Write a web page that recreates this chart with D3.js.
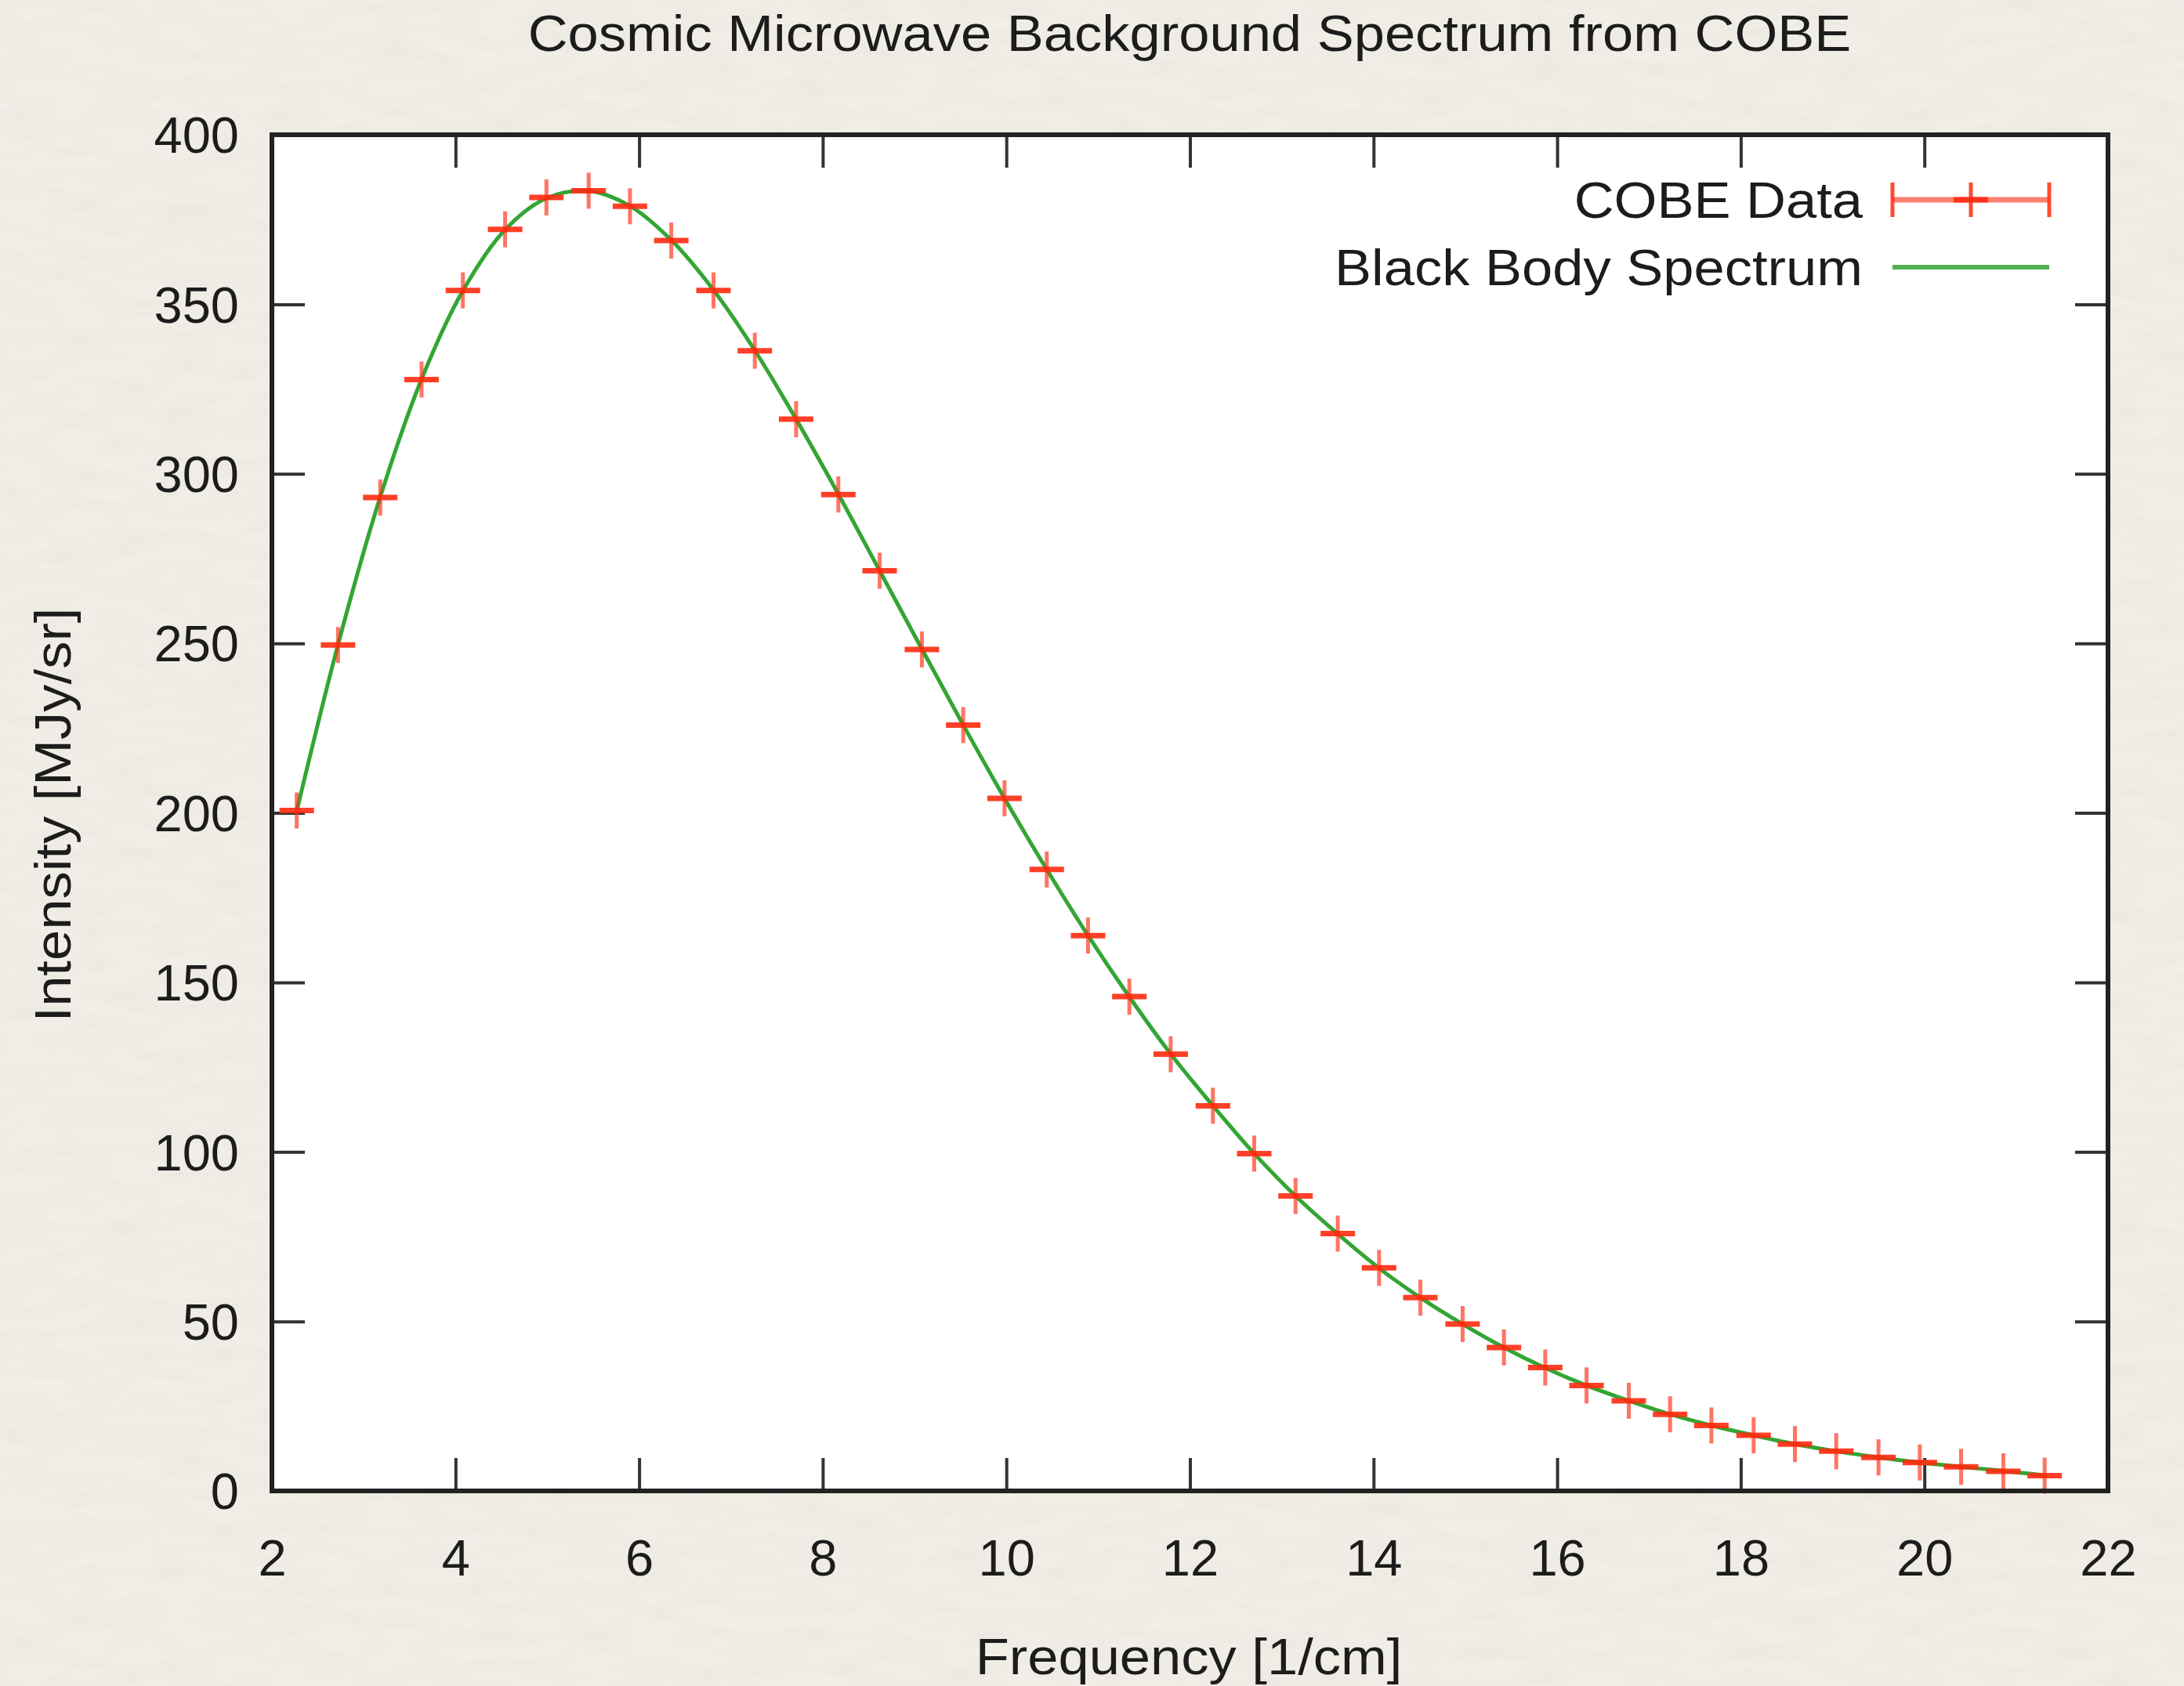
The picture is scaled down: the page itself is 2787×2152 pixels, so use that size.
<!DOCTYPE html>
<html>
<head>
<meta charset="utf-8">
<script src="https://cdn.jsdelivr.net/npm/d3@7"></script>
<style>
    body { margin: 0; background: #eeebe5; }
    text { font-family: "Liberation Sans", Arial, sans-serif; fill: #1c1c1c; }
</style>
</head>
<body>
<div id="container"></div>
<script>
// COBE FIRAS spectrum
const frequency = [2.27, 2.72, 3.18, 3.63, 4.08, 4.54, 4.99, 5.45, 5.90, 6.35, 6.81, 7.26, 7.71,
    8.17, 8.62, 9.08, 9.53, 9.98, 10.44, 10.89, 11.34, 11.79, 12.25, 12.70, 13.15, 13.61,
    14.06, 14.51, 14.97, 15.42, 15.87, 16.32, 16.78, 17.23, 17.68, 18.14, 18.59, 19.04,
    19.50, 19.95, 20.40, 20.86, 21.31];
const cobeData = [200.7, 249.5, 293.0, 327.8, 354.1, 372.1, 381.5, 383.5, 378.9, 368.8, 354.1,
    336.3, 316.1, 293.9, 271.4, 248.2, 225.9, 204.3, 183.3, 163.8, 145.8, 128.8, 113.6, 99.5,
    87.0, 75.9, 65.8, 57.0, 49.2, 42.3, 36.4, 31.1, 26.6, 22.6, 19.3, 16.4, 13.8, 11.7, 9.9,
    8.4, 7.1, 5.8, 4.5];
const blackBody = [200.5, 249.6, 293.2, 327.9, 354.0, 372.0, 381.3, 383.4, 379.0, 368.9, 354.2,
    336.4, 316.1, 294.0, 271.4, 248.3, 225.9, 204.3, 183.3, 163.8, 145.7, 128.9, 113.6, 99.5,
    87.0, 75.8, 65.7, 57.0, 49.2, 42.3, 36.3, 31.1, 26.6, 22.6, 19.3, 16.4, 13.8, 11.7, 9.9,
    8.4, 7.1, 5.9, 4.6];
const xTicks = [2, 4, 6, 8, 10, 12, 14, 16, 18, 20, 22];
const yTicks = [0, 50, 100, 150, 200, 250, 300, 350, 400];
const seriesNames = ["COBE Data", "Black Body Spectrum"];

function main() {
    const width = 2787, height = 2152;
    const plot = { left: 347, right: 2690, top: 172, bottom: 1903 };
    const fontSize = 65;
    const stretch = 1.085;
    const red = "#ff2a10", green = "#34a534";

    const svg = d3.select("#container")
        .append("svg")
        .attr("width", width)
        .attr("height", height);

    // paper background
    const defs = svg.append("defs");
    const filter = defs.append("filter").attr("id", "paper")
        .attr("x", 0).attr("y", 0).attr("width", "100%").attr("height", "100%");
    filter.append("feTurbulence")
        .attr("type", "fractalNoise")
        .attr("baseFrequency", "0.015 0.05")
        .attr("numOctaves", 4)
        .attr("seed", 7);
    filter.append("feColorMatrix")
        .attr("values", "0 0 0 0 0.55  0 0 0 0 0.52  0 0 0 0 0.47  0.2 0 0 0 -0.06");
    svg.append("rect")
        .attr("width", width).attr("height", height)
        .attr("fill", "#f1eee8");
    svg.append("rect")
        .attr("width", width).attr("height", height)
        .attr("filter", "url(#paper)");

    svg.append("rect")
        .attr("x", plot.left).attr("y", plot.top)
        .attr("width", plot.right - plot.left)
        .attr("height", plot.bottom - plot.top)
        .attr("fill", "#ffffff");

    let x = d3.scaleLinear().domain([2, 22]).range([plot.left, plot.right]);
    let y = d3.scaleLinear().domain([0, 400]).range([plot.bottom, plot.top]);
    const tickLen = 42;

    const styleAxis = g => {
        g.select(".domain").remove();
        g.selectAll(".tick line").attr("stroke", "#333").attr("stroke-width", 4);
        g.selectAll(".tick text")
            .attr("font-size", fontSize)
            .attr("font-family", "Liberation Sans, Arial, sans-serif")
            .attr("fill", "#1c1c1c");
    };

    svg.append("g")
        .attr("transform", `translate(0,${plot.bottom})`)
        .call(d3.axisBottom(x).tickValues(xTicks).tickSize(-tickLen).tickPadding(62))
        .call(styleAxis);
    svg.append("g")
        .attr("transform", `translate(0,${plot.top})`)
        .call(d3.axisTop(x).tickValues(xTicks).tickSize(-tickLen).tickFormat(""))
        .call(styleAxis);
    svg.append("g")
        .attr("transform", `translate(${plot.left},0)`)
        .call(d3.axisLeft(y).tickValues(yTicks).tickSize(-tickLen).tickPadding(42))
        .call(styleAxis)
        .selectAll(".tick text").attr("dy", "0.35em");
    svg.append("g")
        .attr("transform", `translate(${plot.right},0)`)
        .call(d3.axisRight(y).tickValues(yTicks).tickSize(-tickLen).tickFormat(""))
        .call(styleAxis);

    // black body curve
    const line = d3.line()
        .x((d, i) => x(frequency[i]))
        .y(d => y(d))
        .curve(d3.curveCatmullRom);
    svg.append("path")
        .datum(blackBody)
        .attr("d", line)
        .attr("fill", "none")
        .attr("stroke", green)
        .attr("stroke-width", 5)
        .attr("stroke-linejoin", "round");

    // COBE data as crosses
    const pts = svg.append("g")
        .selectAll("g")
        .data(cobeData)
        .join("g")
        .attr("transform", (d, i) => `translate(${x(frequency[i])},${y(d)})`);
    pts.append("line")
        .attr("x1", -22).attr("x2", 22)
        .attr("stroke", red).attr("stroke-width", 7).attr("stroke-opacity", 0.9);
    pts.append("line")
        .attr("y1", -23).attr("y2", 23)
        .attr("stroke", red).attr("stroke-width", 5).attr("stroke-opacity", 0.65);

    // frame
    svg.append("rect")
        .attr("x", plot.left).attr("y", plot.top)
        .attr("width", plot.right - plot.left)
        .attr("height", plot.bottom - plot.top)
        .attr("fill", "none")
        .attr("stroke", "#222")
        .attr("stroke-width", 6);

    // legend
    const legend = svg.append("g");
    const lx0 = 2415, lx1 = 2615, lmid = 2515;
    const rows = [255, 341];
    legend.selectAll("text")
        .data(seriesNames)
        .join("text")
        .attr("transform", (d, i) => `translate(2377,${rows[i] + 23}) scale(${stretch},1)`)
        .attr("text-anchor", "end")
        .attr("font-size", fontSize)
        .text(d => d);
    legend.append("line")
        .attr("x1", lx0).attr("x2", lx1).attr("y1", rows[0]).attr("y2", rows[0])
        .attr("stroke", red).attr("stroke-width", 7).attr("stroke-opacity", 0.6);
    legend.append("line")
        .attr("x1", lmid - 22).attr("x2", lmid + 22).attr("y1", rows[0]).attr("y2", rows[0])
        .attr("stroke", red).attr("stroke-width", 7).attr("stroke-opacity", 0.9);
    legend.selectAll(".cap")
        .data([lx0, lmid, lx1])
        .join("line")
        .attr("class", "cap")
        .attr("x1", d => d).attr("x2", d => d)
        .attr("y1", rows[0] - 22).attr("y2", rows[0] + 22)
        .attr("stroke", red).attr("stroke-width", 5).attr("stroke-opacity", 0.85);
    legend.append("line")
        .attr("x1", lx0).attr("x2", lx1).attr("y1", rows[1]).attr("y2", rows[1])
        .attr("stroke", green).attr("stroke-width", 6).attr("stroke-opacity", 0.85);

    // titles
    svg.append("text")
        .attr("transform", `translate(1518,65) scale(${stretch},1)`)
        .attr("text-anchor", "middle")
        .attr("font-size", fontSize)
        .text("Cosmic Microwave Background Spectrum from COBE");
    svg.append("text")
        .attr("transform", `translate(1517,2137) scale(${stretch},1)`)
        .attr("text-anchor", "middle")
        .attr("font-size", fontSize)
        .text("Frequency [1/cm]");
    svg.append("text")
        .attr("transform", `translate(90,1040) rotate(-90) scale(${stretch},1)`)
        .attr("text-anchor", "middle")
        .attr("font-size", fontSize)
        .text("Intensity [MJy/sr]");
}
main();
</script>
</body>
</html>
